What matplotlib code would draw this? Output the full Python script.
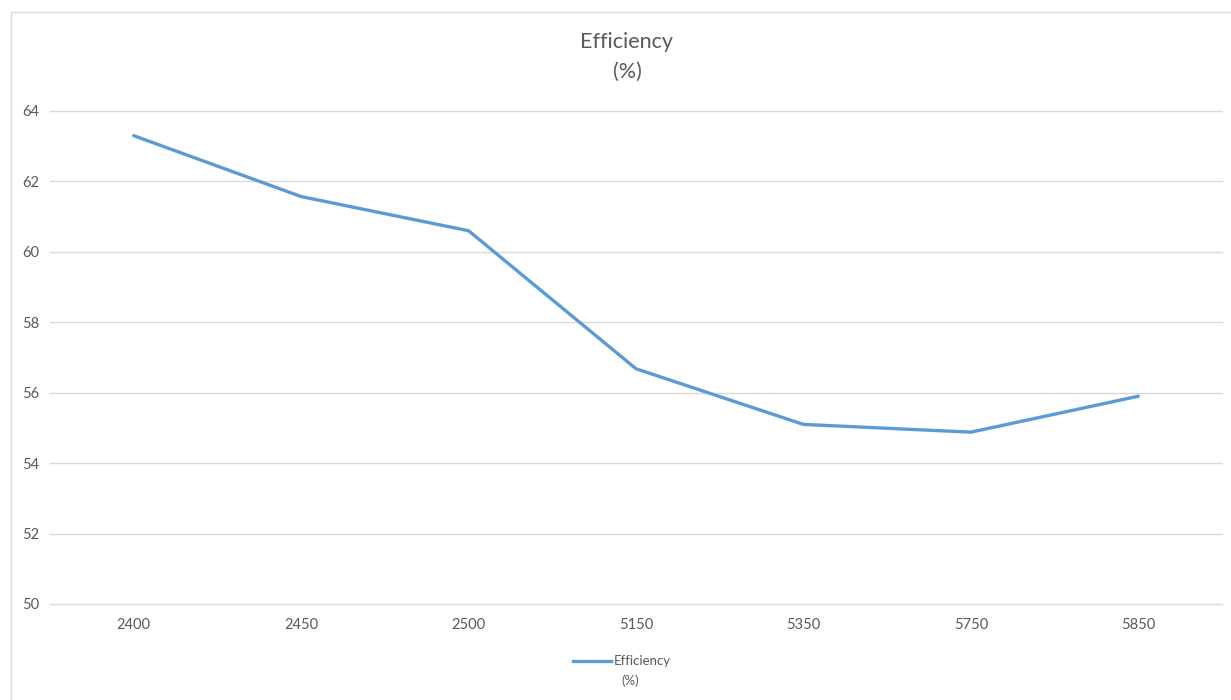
import matplotlib
matplotlib.use("Agg")
import matplotlib.pyplot as plt
from matplotlib.patches import Rectangle
from matplotlib.lines import Line2D

categories = ["2400", "2450", "2500", "5150", "5350", "5750", "5850"]
efficiency = [63.3, 61.57, 60.6, 56.68, 55.1, 54.88, 55.9]
y_ticks = [50, 52, 54, 56, 58, 60, 62, 64]
series_name = "Efficiency\n(%)"

plt.rcParams["font.family"] = ["Lato", "DejaVu Sans"]

W, H = 1231, 700
fig = plt.figure(figsize=(W / 100, H / 100), dpi=100)
fig.patch.set_facecolor("white")

# chart area border
fig.patches.append(Rectangle((11 / W, -0.01), 1.02, 1 - 12 / H + 0.01,
                             transform=fig.transFigure, fill=False,
                             edgecolor="#D9D9D9", linewidth=1.0))

ax = fig.add_axes([50 / W, (H - 604) / H, (1222 - 50) / W, (604 - 111) / H])
x = list(range(len(categories)))
ax.plot(x, efficiency, color="#5B9BD5", linewidth=2.4,
        solid_capstyle="round", solid_joinstyle="round", zorder=3)

ax.set_xlim(-0.5, len(categories) - 0.5)
ax.set_ylim(50, 64)
ax.set_yticks(y_ticks)
ax.set_xticks(x)
ax.set_xticklabels(categories)
for yv in y_ticks:
    ax.axhline(yv, color="#D9D9D9", linewidth=1.0, clip_on=False, zorder=1)
for s in ax.spines.values():
    s.set_visible(False)
ax.tick_params(length=0, labelsize=10.5, colors="#595959")
ax.tick_params(axis="y", pad=8)
ax.tick_params(axis="x", pad=10)

title_lines = series_name.split("\n")
fig.text(627 / W, 1 - 42 / H, title_lines[0], ha="center", va="center",
         fontsize=15.5, color="#595959")
fig.text(627 / W, 1 - 72 / H, title_lines[1], ha="center", va="center",
         fontsize=15.5, color="#595959")

# legend
fig.add_artist(Line2D([573 / W, 611 / W], [1 - 661 / H, 1 - 661 / H],
                      transform=fig.transFigure, color="#5B9BD5", linewidth=2.4))
fig.text(614 / W, 1 - 661 / H, title_lines[0], ha="left", va="center",
         fontsize=9.5, color="#595959")
fig.text(621 / W, 1 - 681 / H, title_lines[1], ha="left", va="center",
         fontsize=9.5, color="#595959")

fig.savefig("out.png", dpi=100, facecolor="white")
